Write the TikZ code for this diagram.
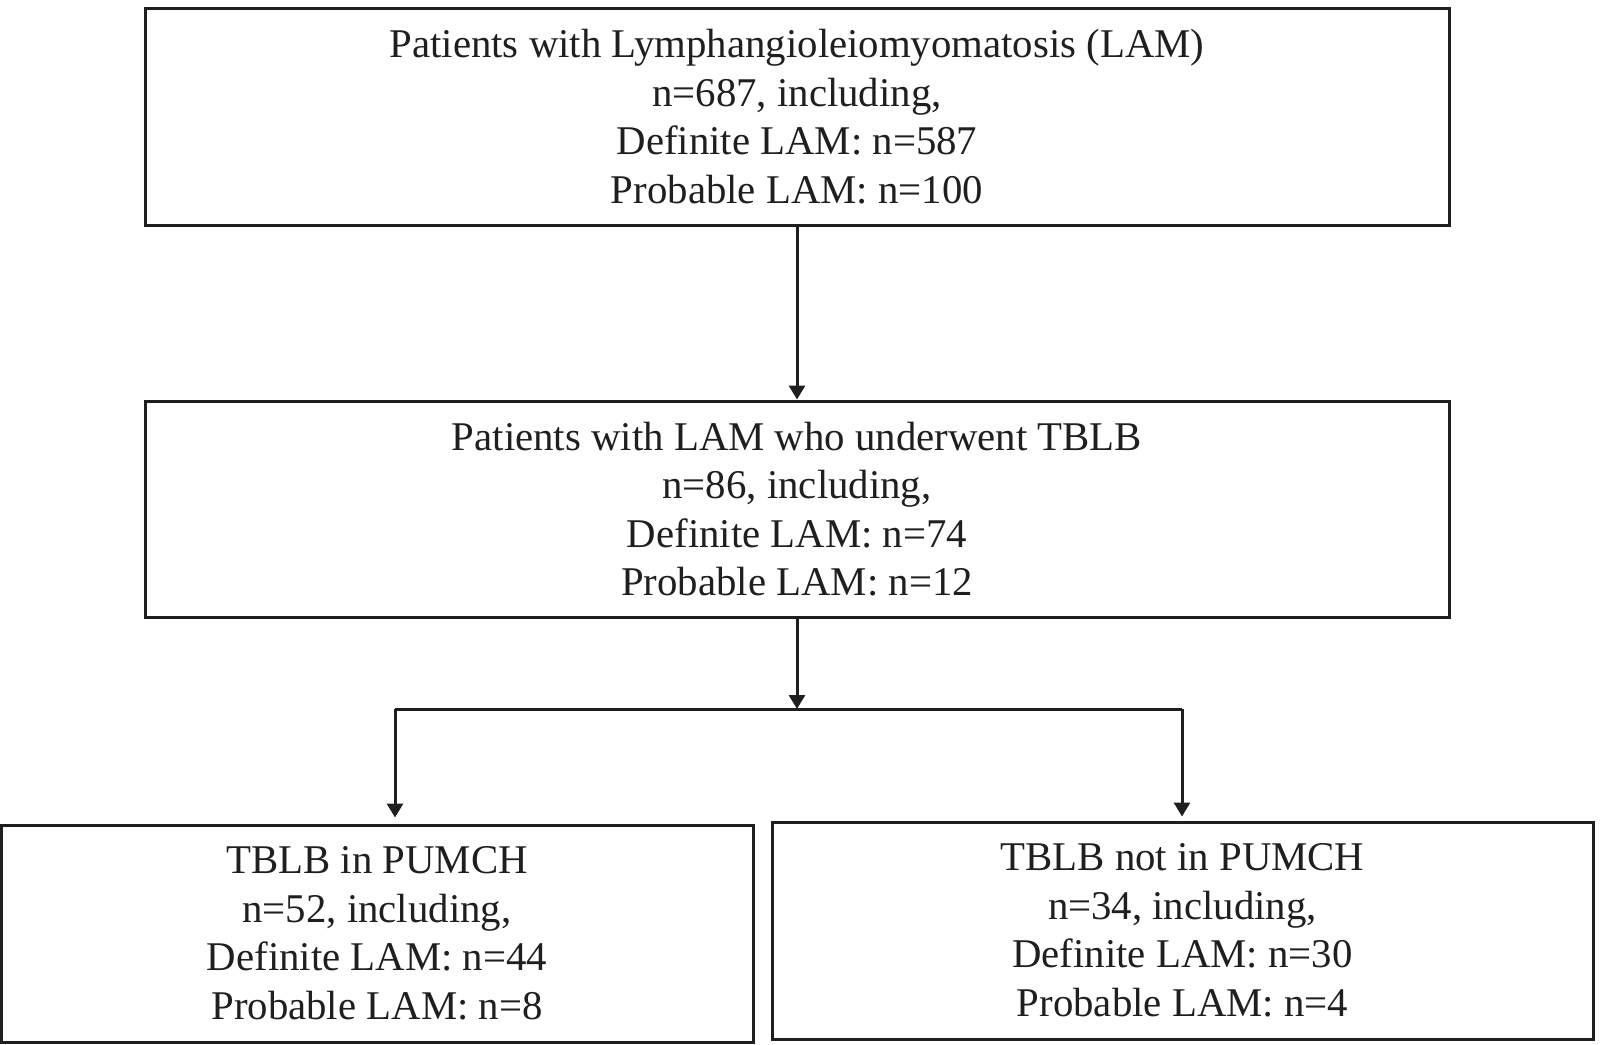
\documentclass[tikz,border=0pt]{standalone}
\usepackage{fontspec}
\setmainfont{Liberation Serif}
\usetikzlibrary{arrows.meta}
\tikzset{
  flowbox/.style={draw=black!88, line width=3pt, inner sep=0pt, align=center,
    font=\fontsize{40.8}{48.5}\selectfont, text=black!88},
  conn/.style={draw=black!88, line width=3pt},
  arr/.style={conn, -{Triangle[length=14pt,width=16pt]}}
}
\begin{document}
\begin{tikzpicture}[x=1pt,y=-1pt]
\useasboundingbox (0,0) rectangle (1600,1044);
\node[flowbox, minimum width=1304pt, minimum height=217pt] (b1) at (797,116.5)
  {Patients with Lymphangioleiomyomatosis (LAM)\\n=687, including,\\Definite LAM: n=587\\Probable LAM: n=100};
\node[flowbox, minimum width=1304pt, minimum height=216pt] (b2) at (797,509)
  {Patients with LAM who underwent TBLB\\n=86, including,\\Definite LAM: n=74\\Probable LAM: n=12};
\node[flowbox, minimum width=752pt, minimum height=217pt] (b3) at (377,933.5)
  {TBLB in PUMCH\\n=52, including,\\Definite LAM: n=44\\Probable LAM: n=8};
\node[flowbox, minimum width=821pt, minimum height=217pt] (b4) at (1182.5,930.5)
  {TBLB not in PUMCH\\n=34, including,\\Definite LAM: n=30\\Probable LAM: n=4};
\coordinate (split) at (797,709);
\coordinate (sl) at (395,709);
\coordinate (sr) at (1182,709);
\draw[arr] (b1.south) -- (b2.north);
\draw[arr] (b2.south) -- (split);
\draw[conn] (sl) -- (sr);
\draw[arr, shorten >=6pt] (sl) -- (sl |- b3.north);
\draw[arr, shorten >=4pt] (sr) -- (sr |- b4.north);
\end{tikzpicture}
\end{document}
